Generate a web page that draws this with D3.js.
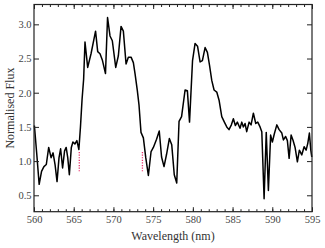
<!DOCTYPE html>
<html>
<head>
<meta charset="utf-8">
<script src="https://cdn.jsdelivr.net/npm/d3@7"></script>
<style>
  body { margin: 0; background: #fff; }
  .axis line { stroke: #222; }
</style>
</head>
<body>
<div class="graph"></div>
<script>
// spectrum
var wavelength = [560.05, 560.35, 560.65, 560.95, 561.25, 561.55, 561.85, 562.15, 562.40, 562.65,
  562.90, 563.15, 563.35, 563.60, 563.85, 564.05, 564.25, 564.45, 564.70, 564.90,
  565.15, 565.40, 565.65, 565.85, 566.05, 566.25, 566.42, 566.76, 567.18, 567.75,
  568.02, 568.31, 568.60, 569.00, 569.26, 569.57, 569.86, 570.29, 570.62, 570.96,
  571.25, 571.59, 571.88, 572.22, 572.51, 572.72, 573.01, 573.22, 573.47, 573.77,
  574.07, 574.40, 574.74, 575.03, 575.43, 575.77, 576.06, 576.37, 576.69, 577.04,
  577.34, 577.66, 577.97, 578.26, 578.58, 579.02, 579.31, 579.58, 579.96, 580.28,
  580.59, 580.91, 581.20, 581.54, 581.83, 582.10, 582.38, 582.67, 583.01, 583.30,
  583.64, 583.97, 584.27, 584.55, 584.85, 585.10, 585.35, 585.60, 585.94, 586.16,
  586.36, 586.57, 586.78, 587.08, 587.33, 587.62, 587.92, 588.17, 588.46, 588.68,
  588.97, 589.24, 589.51, 589.79, 590.01, 590.26, 590.57, 590.86, 591.20, 591.40,
  591.68, 591.90, 592.12, 592.37, 592.62, 592.87, 593.16, 593.41, 593.71, 594.01,
  594.26, 594.47, 594.67, 594.85, 594.97];
var flux = [1.52, 1.10, 0.66, 0.85, 0.92, 0.95, 1.20, 1.05, 1.12, 0.95,
  0.70, 1.05, 1.18, 0.90, 1.15, 1.20, 1.05, 0.80, 1.20, 1.28,
  1.25, 1.30, 1.17, 1.50, 1.90, 2.20, 2.74, 2.37, 2.57, 2.90,
  2.60, 2.57, 2.48, 2.28, 3.10, 2.83, 2.76, 2.37, 2.54, 2.97,
  2.90, 2.42, 2.52, 2.52, 2.44, 2.28, 2.03, 1.82, 1.42, 1.34,
  1.05, 0.79, 1.14, 1.20, 1.32, 1.44, 1.06, 0.92, 1.10, 1.33,
  1.24, 0.80, 0.68, 1.58, 1.65, 2.04, 2.03, 1.57, 2.47, 2.72,
  2.68, 2.45, 2.47, 2.66, 2.59, 2.40, 2.18, 2.04, 2.01, 1.89,
  1.65, 1.57, 1.50, 1.46, 1.53, 1.62, 1.52, 1.57, 1.48, 1.57,
  1.50, 1.55, 1.43, 1.57, 1.53, 1.70, 1.55, 1.57, 1.50, 1.43,
  0.45, 1.42, 0.57, 1.38, 1.28, 1.40, 1.53, 1.46, 1.41, 1.31,
  1.36, 1.30, 1.04, 1.38, 1.30, 1.20, 0.99, 1.16, 1.09, 1.21,
  1.16, 1.26, 1.41, 1.16, 1.06];

// red dotted markers
var markerWavelengths = [565.7, 573.65];
var markerLow = 0.85, markerHigh = 1.15;

var xTicks = [560, 565, 570, 575, 580, 585, 590, 595];
var yTicks = [0.5, 1.0, 1.5, 2.0, 2.5, 3.0];

var serif = "'Liberation Serif', 'DejaVu Serif', serif";

var width = 325, height = 248;
var margin = { top: 4.5, right: 13, bottom: 36.3, left: 34 };

var svg = d3.select(".graph").append("svg")
  .attr("width", width)
  .attr("height", height);

var x = d3.scaleLinear().domain([560, 595]).range([margin.left, width - margin.right]);
var y = d3.scaleLinear().domain([0.26, 3.29]).range([height - margin.bottom, margin.top]);

var data = wavelength.map(function (w, i) { return { w: w, f: flux[i] }; });

var line = d3.line()
  .x(function (d) { return x(d.w); })
  .y(function (d) { return y(d.f); });

svg.append("path")
  .datum(data)
  .attr("fill", "none")
  .attr("stroke", "#000")
  .attr("stroke-width", 1.5)
  .attr("stroke-linejoin", "round")
  .attr("d", line);

svg.append("g")
  .selectAll("line")
  .data(markerWavelengths)
  .enter().append("line")
  .attr("x1", function (d) { return x(d); })
  .attr("x2", function (d) { return x(d); })
  .attr("y1", y(markerLow))
  .attr("y2", y(markerHigh))
  .attr("stroke", "#e8336b")
  .attr("stroke-width", 1.3)
  .attr("stroke-dasharray", "1.2,1.4");

// minor x ticks every 1 nm
var minor = d3.range(560, 596, 1);

var plotBottom = y.range()[0], plotTop = y.range()[1];
var plotLeft = x.range()[0], plotRight = x.range()[1];

svg.append("g").attr("class", "axis")
  .attr("transform", "translate(0," + plotBottom + ")")
  .call(d3.axisBottom(x).tickValues(minor).tickSize(-2.5).tickFormat(""));
svg.append("g").attr("class", "axis")
  .attr("transform", "translate(0," + plotTop + ")")
  .call(d3.axisTop(x).tickValues(minor).tickSize(-2.5).tickFormat(""));

svg.append("g").attr("class", "axis")
  .attr("transform", "translate(0," + plotBottom + ")")
  .call(d3.axisBottom(x).tickValues(xTicks).tickSizeInner(-4.5).tickSizeOuter(0).tickPadding(4).tickFormat(d3.format("d")));
svg.append("g").attr("class", "axis")
  .attr("transform", "translate(0," + plotTop + ")")
  .call(d3.axisTop(x).tickValues(xTicks).tickSizeInner(-4.5).tickSizeOuter(0).tickFormat(""));

svg.append("g").attr("class", "axis")
  .attr("transform", "translate(" + plotLeft + ",0)")
  .call(d3.axisLeft(y).tickValues(yTicks).tickSizeInner(-5).tickSizeOuter(0).tickPadding(2.5).tickFormat(d3.format(".1f")));
svg.append("g").attr("class", "axis")
  .attr("transform", "translate(" + plotRight + ",0)")
  .call(d3.axisRight(y).tickValues(yTicks).tickSizeInner(-5).tickSizeOuter(0).tickFormat(""));

svg.selectAll(".axis .domain").remove();
svg.selectAll(".axis").attr("font-family", null).attr("font-size", null);
svg.selectAll(".axis text")
  .style("font-family", serif)
  .style("font-size", "10.5px")
  .style("fill", "#444");

svg.append("rect")
  .attr("x", plotLeft)
  .attr("y", plotTop)
  .attr("width", plotRight - plotLeft)
  .attr("height", plotBottom - plotTop)
  .attr("fill", "none")
  .attr("stroke", "#222")
  .attr("stroke-width", 1.2);

svg.append("text")
  .attr("x", (plotLeft + plotRight) / 2)
  .attr("y", 240)
  .attr("text-anchor", "middle")
  .style("font-family", serif)
  .style("font-size", "12px")
  .style("fill", "#333")
  .text("Wavelength (nm)");

svg.append("text")
  .attr("transform", "translate(13.5," + (plotTop + plotBottom) / 2 + ") rotate(-90)")
  .attr("text-anchor", "middle")
  .style("font-family", serif)
  .style("font-size", "12px")
  .style("fill", "#333")
  .text("Normalised Flux");
</script>
</body>
</html>
